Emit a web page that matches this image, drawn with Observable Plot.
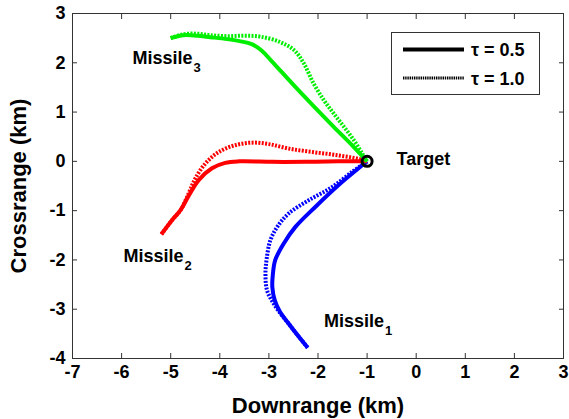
<!DOCTYPE html>
<html><head><meta charset="utf-8">
<script src="https://cdn.jsdelivr.net/npm/d3@7"></script>
<script src="https://cdn.jsdelivr.net/npm/@observablehq/plot@0.6"></script>
<style>
body{margin:0;background:#fff;}
#wrap{position:relative;width:569px;height:419px;font-family:"Liberation Sans",Arial,sans-serif;font-weight:bold;}
#wrap svg text{font-weight:bold;}
#legend{position:absolute;left:391px;top:32px;width:149px;height:63px;border:1px solid #333;background:#fff;box-sizing:border-box;}
#legend svg{display:block;}
</style></head><body><div id="wrap"></div>
<script>
// Tick values
const xTicks = [-7, -6, -5, -4, -3, -2, -1, 0, 1, 2, 3];
const yTicks = [-4, -3, -2, -1, 0, 1, 2, 3];

// Missile 1 (blue)
const m1Tau05X = [-2.21, -2.39, -2.60, -2.78, -2.88, -2.93, -2.92, -2.87, -2.70, -2.46, -2.05, -1.58, -1.10, -1.0];
const m1Tau05Y = [-3.78, -3.56, -3.29, -3.04, -2.82, -2.55, -2.30, -2.00, -1.67, -1.33, -0.92, -0.48, -0.08, 0.0];
const m1Tau10X = [-2.21, -2.39, -2.60, -2.77, -2.92, -3.04, -3.07, -3.04, -2.97, -2.83, -2.60, -2.19, -1.71, -1.30, -1.0];
const m1Tau10Y = [-3.78, -3.56, -3.29, -3.08, -2.86, -2.61, -2.27, -1.94, -1.60, -1.33, -1.06, -0.79, -0.52, -0.21, 0.0];

// Missile 2 (red)
const m2Tau05X = [-5.19, -4.97, -4.80, -4.63, -4.43, -4.16, -3.89, -3.61, -2.93, -2.25, -1.58, -1.0];
const m2Tau05Y = [-1.48, -1.19, -0.99, -0.69, -0.38, -0.14, -0.03, 0.0, -0.01, -0.01, 0.0, 0.0];
const m2Tau10X = [-5.19, -4.97, -4.80, -4.63, -4.50, -4.29, -4.02, -3.68, -3.34, -3.00, -2.60, -2.12, -1.64, -1.17, -1.0];
const m2Tau10Y = [-1.48, -1.19, -0.99, -0.64, -0.35, -0.04, 0.19, 0.33, 0.38, 0.35, 0.26, 0.19, 0.13, 0.05, 0.0];

// Missile 3 (green)
const m3Tau05X = [-5.00, -4.74, -4.46, -4.19, -3.85, -3.60, -3.35, -3.15, -2.95, -2.49, -2.09, -1.68, -1.27, -1.0];
const m3Tau05Y = [2.50, 2.56, 2.55, 2.52, 2.48, 2.44, 2.38, 2.25, 2.04, 1.54, 1.12, 0.70, 0.29, 0.0];
const m3Tau10X = [-5.00, -4.74, -4.46, -4.19, -3.85, -3.51, -3.17, -2.77, -2.49, -2.29, -2.09, -1.88, -1.68, -1.47, -1.27, -1.10, -1.0];
const m3Tau10Y = [2.50, 2.58, 2.59, 2.56, 2.54, 2.55, 2.53, 2.42, 2.26, 1.99, 1.58, 1.24, 0.97, 0.70, 0.43, 0.16, 0.0];

// Target
const targetX = [-1.0];
const targetY = [0.0];

// Annotation labels
const labelNames = ["Missile", "Missile", "Missile", "Target"];
const labelSubs = ["1", "2", "3", ""];
const labelX = [-1.88, -5.96, -5.78, -0.40];
const labelY = [-3.24, -1.92, 2.10, 0.04];

const legendLabels = ["τ = 0.5", "τ = 1.0"];

const toPts = (xs, ys) => xs.map((x, i) => ({x, y: ys[i]}));
const series = [
  {pts: toPts(m1Tau05X, m1Tau05Y), color: "#0000ff", dash: null},
  {pts: toPts(m1Tau10X, m1Tau10Y), color: "#0000ff", dash: "2,1.4"},
  {pts: toPts(m2Tau05X, m2Tau05Y), color: "#ff0000", dash: null},
  {pts: toPts(m2Tau10X, m2Tau10Y), color: "#ff0000", dash: "2,1.4"},
  {pts: toPts(m3Tau05X, m3Tau05Y), color: "#00ee00", dash: null},
  {pts: toPts(m3Tau10X, m3Tau10Y), color: "#00ee00", dash: "2,1.4"}
];
const labels = labelNames.map((t, i) => ({t, s: labelSubs[i], x: labelX[i], y: labelY[i]}));
const fmt = d => String(d);

const chart = Plot.plot({
  width: 569, height: 419,
  marginLeft: 72, marginRight: 6, marginTop: 13, marginBottom: 61,
  x: {domain: [-7, 3]},
  y: {domain: [-4, 3]},
  style: {fontFamily: "'Liberation Sans', Arial, sans-serif", fontWeight: "bold", fontSize: "18px", color: "#000", background: "#fff"},
  marks: [
    Plot.frame({stroke: "#333", strokeWidth: 1}),
    Plot.axisX(xTicks, {anchor: "bottom", tickSize: -5, tickPadding: 12, tickFormat: fmt, label: null, fontSize: 18, fontWeight: "bold", stroke: "#333", fill: "#000"}),
    Plot.axisX(xTicks, {anchor: "top", tickSize: -5, tickFormat: () => "", label: null, stroke: "#333"}),
    Plot.axisY(yTicks, {anchor: "left", tickSize: -5, tickPadding: 12, tickFormat: fmt, label: null, fontSize: 18, fontWeight: "bold", stroke: "#333", fill: "#000"}),
    Plot.axisY(yTicks, {anchor: "right", tickSize: -5, tickFormat: () => "", label: null, stroke: "#333"}),
    Plot.text(["Downrange (km)"], {frameAnchor: "bottom", lineAnchor: "middle", textAnchor: "middle", dy: 47, fontSize: 22, fontWeight: "bold", fill: "#000"}),
    Plot.text(["Crossrange (km)"], {frameAnchor: "left", textAnchor: "middle", lineAnchor: "middle", rotate: -90, dx: -54, fontSize: 22, fontWeight: "bold", fill: "#000"}),
    ...series.map(s => Plot.line(s.pts, {x: "x", y: "y", stroke: s.color, strokeWidth: 4, curve: "catmull-rom", strokeDasharray: s.dash, strokeLinecap: "butt", strokeLinejoin: "round"})),
    Plot.dot(toPts(targetX, targetY), {x: "x", y: "y", r: 5, stroke: "#000", strokeWidth: 3, fill: "none"}),
    Plot.text(labels, {x: "x", y: "y", text: "t", textAnchor: "start", fontSize: 18, fontWeight: "bold", fill: "#000"}),
    Plot.text(labels, {x: "x", y: "y", text: "s", textAnchor: "start", fontSize: 13, fontWeight: "bold", dx: 61, dy: 10, fill: "#000"})
  ]
});
d3.select(chart).selectAll("text").attr("font-weight", "bold");
const wrap = document.getElementById("wrap");
wrap.appendChild(chart);

// Legend box
const legend = document.createElement("div");
legend.id = "legend";
const ns = "http://www.w3.org/2000/svg";
const lsvg = document.createElementNS(ns, "svg");
lsvg.setAttribute("width", 147); lsvg.setAttribute("height", 61);
legendLabels.forEach((lab, i) => {
  const yy = 16.5 + i * 28.5;
  const ln = document.createElementNS(ns, "line");
  ln.setAttribute("x1", 11); ln.setAttribute("x2", 72);
  ln.setAttribute("y1", yy); ln.setAttribute("y2", yy);
  ln.setAttribute("stroke", "#000");
  ln.setAttribute("stroke-width", i === 0 ? 4 : 3);
  if (i === 1) ln.setAttribute("stroke-dasharray", "1.4,0.8");
  lsvg.appendChild(ln);
  const tx = document.createElementNS(ns, "text");
  tx.setAttribute("x", 79); tx.setAttribute("y", yy + 6.5);
  tx.setAttribute("font-size", 18);
  tx.setAttribute("font-weight", "bold");
  tx.setAttribute("font-family", "'Liberation Sans', Arial, sans-serif");
  tx.textContent = lab;
  lsvg.appendChild(tx);
});
legend.appendChild(lsvg);
wrap.appendChild(legend);
</script>
</body></html>
